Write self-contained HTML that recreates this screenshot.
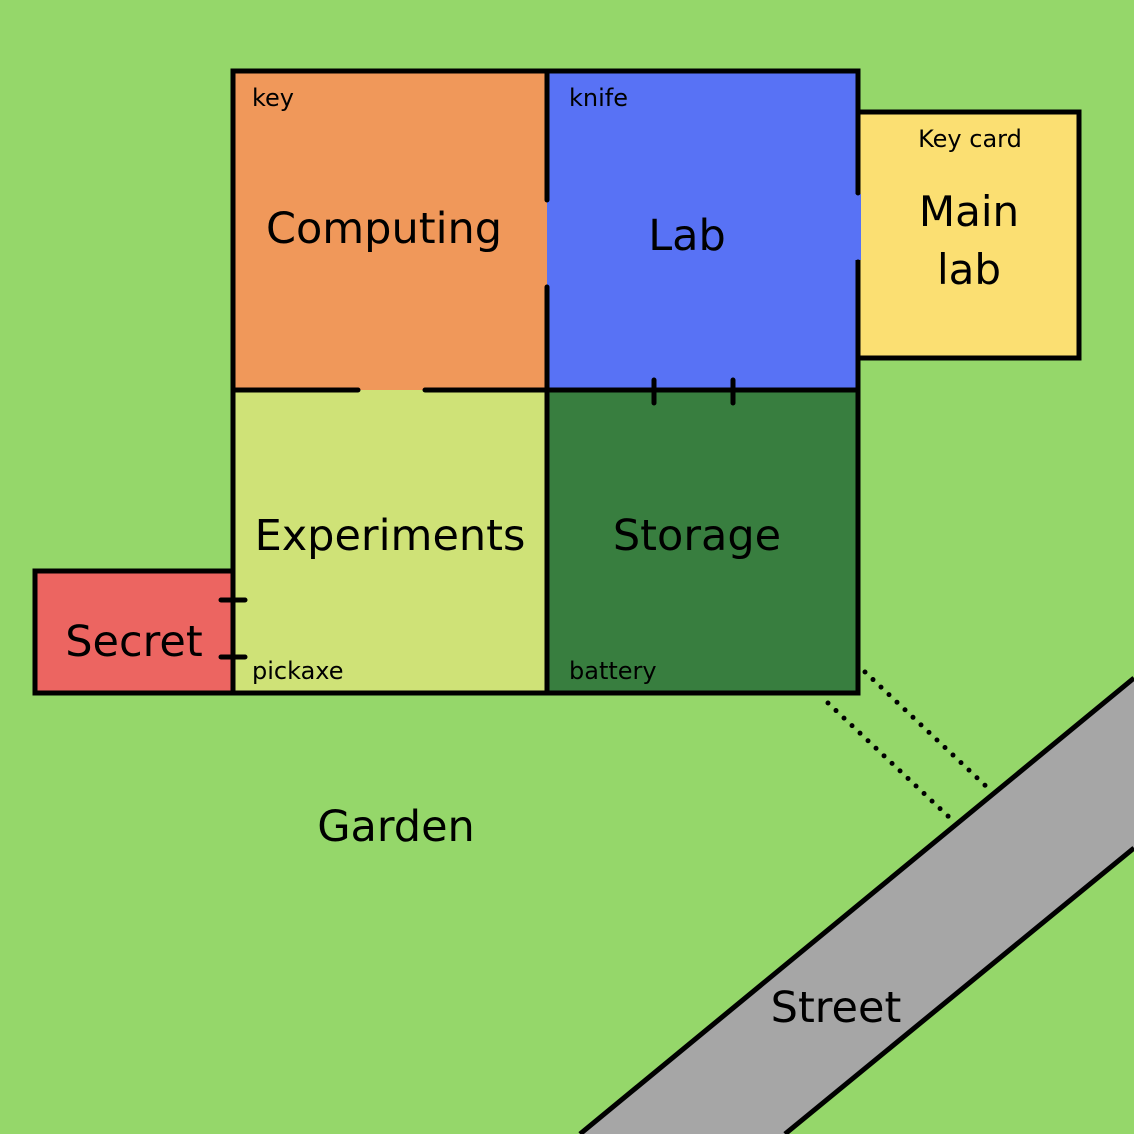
<!DOCTYPE html>
<html><head><meta charset="utf-8"><style>
html,body{margin:0;padding:0;background:#95d76a;}
svg{display:block;}
text{font-family:"DejaVu Sans","Liberation Sans",sans-serif;fill:#000;}
</style></head><body>
<svg width="1134" height="1134" viewBox="0 0 1134 1134">
<rect x="0" y="0" width="1134" height="1134" fill="#95d76a"/>
<polygon points="580,1134 1134,678 1134,848 785,1134" fill="#a6a6a6"/>
<line x1="580" y1="1134" x2="1134" y2="678" stroke="#000" stroke-width="5"/>
<line x1="785" y1="1134" x2="1134" y2="848" stroke="#000" stroke-width="5"/>
<rect x="233" y="71" width="314" height="319" fill="#f0985a"/>
<rect x="547" y="71" width="311" height="319" fill="#5872f5"/>
<rect x="858" y="112" width="221" height="246" fill="#fbdf72" stroke="#000" stroke-width="5"/>
<rect x="233" y="390" width="314" height="303" fill="#cfe277"/>
<rect x="547" y="390" width="311" height="303" fill="#387e3f"/>
<rect x="35" y="571" width="198" height="122" fill="#ec6561" stroke="#000" stroke-width="5"/>
<rect x="852" y="194" width="9" height="66" fill="#5872f5"/>
<g stroke="#000" stroke-width="5" stroke-linecap="round" fill="none">
<polyline points="233,693 233,71 858,71 858,193"/>
<polyline points="858,262 858,693 547,693 233,693"/>
<line x1="35" y1="693" x2="233" y2="693"/>
<line x1="547" y1="71" x2="547" y2="200"/>
<line x1="547" y1="287" x2="547" y2="693"/>
<line x1="233" y1="390" x2="358" y2="390"/>
<line x1="425" y1="390" x2="858" y2="390"/>
<line x1="654" y1="380" x2="654" y2="403"/>
<line x1="733" y1="380" x2="733" y2="403"/>
<line x1="221" y1="600" x2="245" y2="600"/>
<line x1="221" y1="657" x2="245" y2="657"/>
</g>
<g stroke="#000" stroke-width="5" stroke-dasharray="0 11" stroke-linecap="round">
<line x1="865" y1="672" x2="990" y2="790"/>
<line x1="828" y1="703" x2="950" y2="818"/>
</g>
<text x="252" y="106" font-size="24">key</text>
<text x="569" y="106" font-size="24">knife</text>
<text x="970" y="147" font-size="24" text-anchor="middle">Key card</text>
<text x="252" y="679" font-size="24">pickaxe</text>
<text x="569" y="679" font-size="24">battery</text>
<text x="384" y="243" font-size="43" text-anchor="middle">Computing</text>
<text x="687" y="250" font-size="43" text-anchor="middle">Lab</text>
<text x="969" y="226" font-size="42" text-anchor="middle">Main</text>
<text x="969" y="284" font-size="42" text-anchor="middle">lab</text>
<text x="390" y="550" font-size="43" text-anchor="middle">Experiments</text>
<text x="697" y="550" font-size="43" text-anchor="middle">Storage</text>
<text x="134" y="656" font-size="43" text-anchor="middle">Secret</text>
<text x="396" y="841" font-size="43" text-anchor="middle">Garden</text>
<text x="836" y="1022" font-size="43" text-anchor="middle">Street</text>
</svg>
</body></html>
